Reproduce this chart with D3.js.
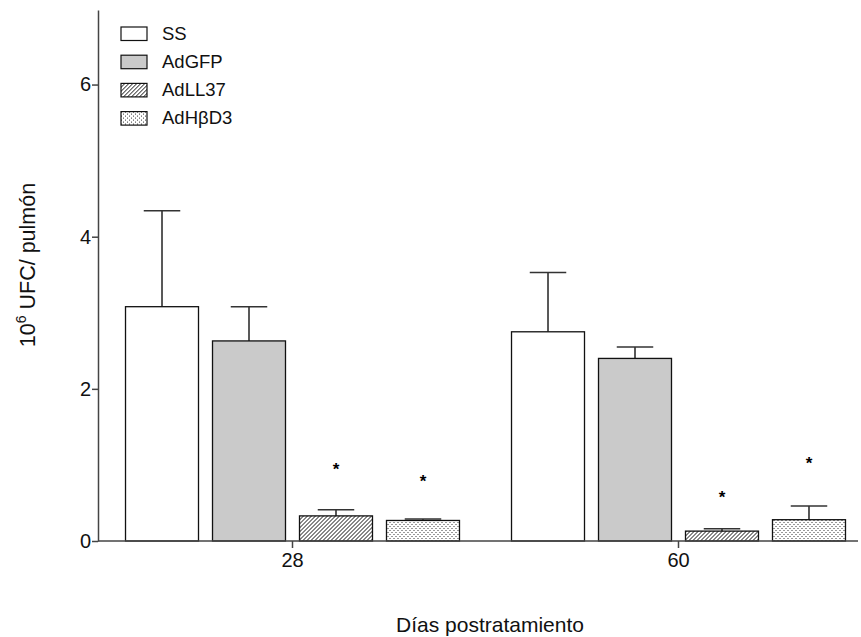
<!DOCTYPE html>
<html>
<head>
<meta charset="utf-8">
<script src="https://cdn.jsdelivr.net/npm/d3@7"></script>
<style>
  body { margin: 0; background: #fff; }
  svg { font-family: "Liberation Sans", Arial, sans-serif; }
</style>
</head>
<body>
<div id="chart"></div>
<script>
// Data
const groups = ["28", "60"];
const series = ["SS", "AdGFP", "AdLL37", "AdHβD3"];
const means = [
  [3.08, 2.63, 0.33, 0.27],
  [2.75, 2.40, 0.13, 0.28]
];
const upper = [
  [4.34, 3.08, 0.41, 0.29],
  [3.53, 2.55, 0.16, 0.46]
];
// asterisk heights (same units), null = none
const stars = [
  [null, null, 1.00, 0.84],
  [null, null, 0.64, 1.08]
];
const yTicks = [0, 2, 4, 6];

const W = 861, H = 637;
const svg = d3.select("#chart").append("svg")
  .attr("width", W).attr("height", H);

const defs = svg.append("defs");
const hatch = defs.append("pattern")
  .attr("id", "hatch").attr("patternUnits", "userSpaceOnUse")
  .attr("width", 4).attr("height", 4);
hatch.append("rect").attr("width", 4).attr("height", 4).attr("fill", "#fff");
hatch.append("path").attr("d", "M-1,1 l2,-2 M0,4 l4,-4 M3,5 l2,-2")
  .attr("stroke", "#111").attr("stroke-width", 1);

const dots = defs.append("pattern")
  .attr("id", "dots").attr("patternUnits", "userSpaceOnUse")
  .attr("width", 4).attr("height", 4);
dots.append("rect").attr("width", 4).attr("height", 4).attr("fill", "#fff");
dots.append("rect").attr("x", 0).attr("y", 0).attr("width", 1).attr("height", 1).attr("fill", "#333");
dots.append("rect").attr("x", 2).attr("y", 2).attr("width", 1).attr("height", 1).attr("fill", "#333");

const fills = ["#ffffff", "#cacaca", "url(#hatch)", "url(#dots)"];

const y = d3.scaleLinear().domain([0, 6.98]).range([541, 10]);
const x0 = d3.scaleBand().domain(groups).range([99.5, 871.5]);
const x1 = d3.scaleBand().domain(series).range([0, x0.bandwidth()])
  .paddingInner(0.161).paddingOuter(0.299);

// Bars
const g = svg.selectAll("g.grp").data(groups).join("g")
  .attr("class", "grp")
  .attr("transform", d => `translate(${x0(d)},0)`);

g.each(function(grp, gi) {
  const sel = d3.select(this);
  const rows = series.map((s, si) => ({ s, si, v: means[gi][si], u: upper[gi][si], st: stars[gi][si] }));

  // error bars (upper only)
  sel.selectAll("line.err").data(rows).join("line")
    .attr("x1", d => x1(d.s) + x1.bandwidth() / 2)
    .attr("x2", d => x1(d.s) + x1.bandwidth() / 2)
    .attr("y1", d => y(d.v)).attr("y2", d => y(d.u))
    .attr("stroke", "#222").attr("stroke-width", 1.5);
  sel.selectAll("line.cap").data(rows).join("line")
    .attr("class", "cap")
    .attr("x1", d => x1(d.s) + x1.bandwidth() / 4)
    .attr("x2", d => x1(d.s) + x1.bandwidth() * 3 / 4)
    .attr("y1", d => y(d.u)).attr("y2", d => y(d.u))
    .attr("stroke", "#333").attr("stroke-width", 1.5);

  sel.selectAll("rect").data(rows).join("rect")
    .attr("x", d => x1(d.s))
    .attr("y", d => y(d.v))
    .attr("width", x1.bandwidth())
    .attr("height", d => y(0) - y(d.v))
    .attr("fill", d => fills[d.si])
    .attr("stroke", "#111").attr("stroke-width", 1.3);

  sel.selectAll("text.star").data(rows.filter(d => d.st != null)).join("text")
    .attr("class", "star")
    .attr("x", d => x1(d.s) + x1.bandwidth() / 2)
    .attr("y", d => y(d.st))
    .attr("dy", "0.6em")
    .attr("text-anchor", "middle")
    .attr("font-size", 17).attr("font-weight", "bold")
    .text("*");
});

// Y axis
const yAxis = svg.append("g")
  .attr("transform", "translate(98,0)")
  .call(d3.axisLeft(y).tickValues(yTicks).tickSize(6).tickSizeOuter(0).tickFormat(d3.format("d")));
yAxis.selectAll("text").attr("font-size", 20).attr("fill", "#111").attr("x", -7);
yAxis.selectAll("line, path").attr("stroke", "#444").attr("stroke-width", 1.5);

// X axis
const xAxis = svg.append("g")
  .attr("transform", "translate(0,541)")
  .call(d3.axisBottom(x0).tickSize(7).tickSizeOuter(0));
xAxis.select(".domain").attr("d", "M98,0H858");
xAxis.selectAll("text").attr("font-size", 20).attr("fill", "#111").attr("dy", "0.8em");
xAxis.selectAll("line, path").attr("stroke", "#444").attr("stroke-width", 1.5);

// Axis titles
svg.append("text")
  .attr("x", 490).attr("y", 632)
  .attr("text-anchor", "middle")
  .attr("font-size", 21).attr("fill", "#111")
  .text("Días postratamiento");

const yl = svg.append("text")
  .attr("transform", "translate(35,265) rotate(-90)")
  .attr("text-anchor", "middle")
  .attr("font-size", 21.5).attr("fill", "#111");
yl.append("tspan").text("10");
yl.append("tspan").attr("font-size", 14).attr("dy", -9).text("6");
yl.append("tspan").attr("dy", 9).text(" UFC/ pulmón");

// Legend
const leg = svg.append("g").attr("transform", "translate(121,27)");
const li = leg.selectAll("g").data(series).join("g")
  .attr("transform", (d, i) => `translate(0,${i * 28.2})`);
li.append("rect")
  .attr("width", 26).attr("height", 13.5)
  .attr("fill", (d, i) => fills[i])
  .attr("stroke", "#111").attr("stroke-width", 1.2);
li.append("text")
  .attr("x", 41).attr("y", 12.5)
  .attr("font-size", 18.5).attr("fill", "#111")
  .text(d => d);
</script>
</body>
</html>
